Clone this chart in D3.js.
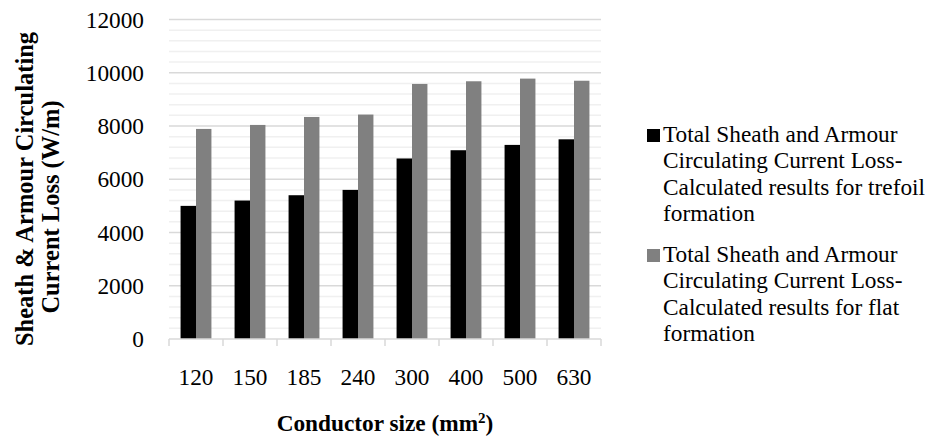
<!DOCTYPE html>
<html><head><meta charset="utf-8">
<script src="https://cdn.jsdelivr.net/npm/d3@7"></script>
<style>html,body{margin:0;padding:0;background:#fff;} svg{display:block;} svg text{font-family:"Liberation Serif","Times New Roman",serif;}</style>
</head><body>
<script>
const categories = ["120","150","185","240","300","400","500","630"];
const trefoil = [5000, 5200, 5400, 5600, 6780, 7090, 7290, 7500];
const flat = [7890, 8040, 8340, 8430, 9580, 9680, 9780, 9700];
const yTicks = [0, 2000, 4000, 6000, 8000, 10000, 12000];
const seriesNames = [
  ["Total Sheath and Armour", "Circulating Current Loss-", "Calculated results for trefoil", "formation"],
  ["Total Sheath and Armour", "Circulating Current Loss-", "Calculated results for flat", "formation"]
];
const colors = ["#000000", "#808080"];
(function(){
const W = 939, H = 439;
const FS = 23.3;
const svg = d3.select("body").append("svg").attr("width", W).attr("height", H);
const pLeft = 169, pRight = 601, pTop = 19.5, pBottom = 339;
const x = d3.scaleBand().domain(categories).range([pLeft, pRight]).paddingInner(0).paddingOuter(0);
const y = d3.scaleLinear().domain([0, 12000]).range([pBottom, pTop]);

const minor = d3.range(0, 12001, 400).filter(v => v % 2000 !== 0);
svg.append("g").selectAll("line").data(minor).join("line")
  .attr("x1", pLeft).attr("x2", pRight).attr("y1", d => y(d)).attr("y2", d => y(d))
  .attr("stroke", "#f0f0f0").attr("stroke-width", 1.5);
svg.append("g").selectAll("line").data(yTicks.filter(v => v > 0)).join("line")
  .attr("x1", pLeft).attr("x2", pRight).attr("y1", d => y(d)).attr("y2", d => y(d))
  .attr("stroke", "#d9d9d9").attr("stroke-width", 1.5);

const bw = x.bandwidth() / 3.5;
[trefoil, flat].forEach((vals, s) => {
  svg.append("g").selectAll("rect").data(vals).join("rect")
    .attr("x", (d, i) => x(categories[i]) + x.bandwidth() / 2 - bw + s * bw)
    .attr("y", d => y(d))
    .attr("width", bw)
    .attr("height", d => pBottom - y(d))
    .attr("fill", colors[s]);
});

const gx = svg.append("g").attr("transform", `translate(0,${pBottom})`);
gx.append("line").attr("x1", pLeft).attr("x2", pRight).attr("y1", 0).attr("y2", 0)
  .attr("stroke", "#d9d9d9").attr("stroke-width", 1.5);
const bounds = categories.map(c => x(c)).concat([pRight]);
gx.selectAll("line.t").data(bounds).join("line").attr("class", "t")
  .attr("x1", d => d).attr("x2", d => d).attr("y1", 0).attr("y2", 7)
  .attr("stroke", "#d9d9d9").attr("stroke-width", 1.5);
gx.selectAll("text").data(categories).join("text")
  .attr("x", d => x(d) + x.bandwidth() / 2).attr("y", 46)
  .attr("text-anchor", "middle").attr("font-size", FS)
  .attr("fill", "#000").text(d => d);

svg.append("g").selectAll("text").data(yTicks).join("text")
  .attr("x", 144).attr("y", d => y(d)).attr("dy", "0.35em")
  .attr("text-anchor", "end").attr("font-size", FS)
  .attr("fill", "#000").text(d => d);

const yt = [["Sheath & Armour Circulating", 33, 189], ["Current Loss (W/m)", 59, 207]];
yt.forEach(([t, bx, cy]) => {
  svg.append("text").attr("transform", `translate(${bx},${cy}) rotate(-90)`)
    .attr("text-anchor", "middle").attr("font-size", 24.5)
    .attr("font-weight", "bold").text(t);
});

const xt = svg.append("text").attr("x", (pLeft + pRight) / 2).attr("y", 431)
  .attr("text-anchor", "middle").attr("font-size", FS)
  .attr("font-weight", "bold");
xt.append("tspan").text("Conductor size (mm");
xt.append("tspan").attr("font-size", 15).attr("dy", -8).text("2");
xt.append("tspan").attr("dy", 8).text(")");

const legY = [142, 262];
seriesNames.forEach((lines, s) => {
  svg.append("rect").attr("x", 647).attr("y", legY[s] - 13).attr("width", 13).attr("height", 13)
    .attr("fill", colors[s]);
  const t = svg.append("text").attr("font-size", FS).attr("fill", "#000");
  lines.forEach((l, i) => {
    t.append("tspan").attr("x", 663).attr("y", legY[s] + i * 26.3).text(l);
  });
});
})();
</script>
</body></html>
